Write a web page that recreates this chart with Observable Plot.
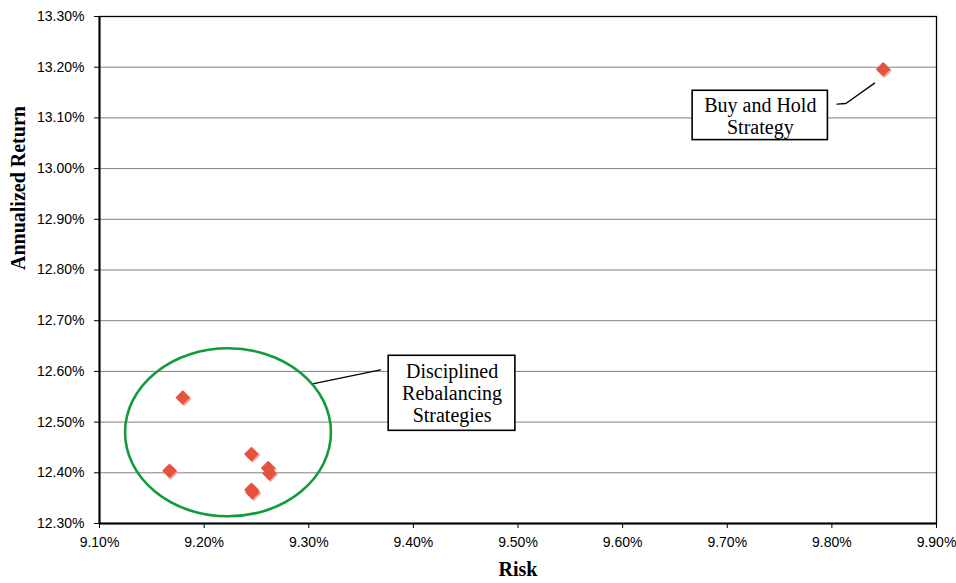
<!DOCTYPE html>
<html>
<head>
<meta charset="utf-8">
<script src="https://cdn.jsdelivr.net/npm/d3@7"></script>
<script src="https://cdn.jsdelivr.net/npm/@observablehq/plot@0.6"></script>
<style>
  html, body { margin: 0; padding: 0; background: #fff; }
  #chart svg { display: block; }
</style>
</head>
<body>
<div id="chart"></div>
<script>
// ---- data (percent) ----
const strategies = ["Buy and Hold", "Rebalancing A", "Rebalancing B", "Rebalancing C",
                    "Rebalancing D", "Rebalancing E", "Rebalancing F", "Rebalancing G"];
const risk = [9.849, 9.1796, 9.1669, 9.2452, 9.2612, 9.2624, 9.2452, 9.2462];
const annualizedReturn = [13.196, 12.5485, 12.4039, 12.4369, 12.4093, 12.399, 12.3665, 12.3615];

// ---- tick labels ----
const xTicks = [9.1, 9.2, 9.3, 9.4, 9.5, 9.6, 9.7, 9.8, 9.9];
const yTicks = [12.3, 12.4, 12.5, 12.6, 12.7, 12.8, 12.9, 13.0, 13.1, 13.2, 13.3];

// ---- annotations (data coordinates) ----
const noteText = ["Buy and Hold\nStrategy", "Disciplined\nRebalancing\nStrategies"];
const noteX = [9.7316, 9.4370];
const noteY = [13.1047, 12.5568];
const boxX1 = [9.6669, 9.3764];
const boxX2 = [9.7962, 9.4975];
const boxY1 = [13.0562, 12.4828];
const boxY2 = [13.1535, 12.6308];
const leaderX = [[9.8049, 9.8134, 9.8408], [9.3048, 9.3685]];
const leaderY = [[13.1272, 13.1284, 13.1686], [12.5761, 12.6032]];
const ellipseCenter = [9.2233, 12.4789];
const ellipseRadius = [0.0984, 0.1657];

// ---- build tables ----
const points = strategies.map((s, i) => ({strategy: s, risk: risk[i], ret: annualizedReturn[i]}));
const notes = noteText.map((t, i) => ({text: t, x: noteX[i], y: noteY[i], x1: boxX1[i], x2: boxX2[i], y1: boxY1[i], y2: boxY2[i]}));
const leaders = leaderX.flatMap((xs, k) => xs.map((x, j) => ({k, x, y: leaderY[k][j]})));

const pct = d => d.toFixed(2) + "%";

function ellipseMark(index, scales) {
  const {x, y} = scales;
  const cx = x(ellipseCenter[0]), cy = y(ellipseCenter[1]);
  const rx = Math.abs(x(ellipseCenter[0] + ellipseRadius[0]) - cx);
  const ry = Math.abs(cy - y(ellipseCenter[1] + ellipseRadius[1]));
  const el = document.createElementNS("http://www.w3.org/2000/svg", "ellipse");
  el.setAttribute("cx", cx); el.setAttribute("cy", cy);
  el.setAttribute("rx", rx); el.setAttribute("ry", ry);
  el.setAttribute("fill", "none");
  el.setAttribute("stroke", "#139a3c");
  el.setAttribute("stroke-width", 2.6);
  return el;
}

const chart = Plot.plot({
  width: 956,
  height: 583,
  marginLeft: 99,
  marginRight: 20,
  marginTop: 16,
  marginBottom: 60,
  style: {fontFamily: "'Liberation Sans', Arial, sans-serif", fontSize: "14px", color: "#000", background: "#fff"},
  x: {domain: [9.1, 9.9], ticks: xTicks, tickFormat: pct, tickSize: 5, tickPadding: 9, label: null},
  y: {domain: [12.3, 13.3], ticks: yTicks, tickFormat: pct, tickSize: 5, tickPadding: 10, label: null},
  marks: [
    Plot.ruleY(yTicks, {stroke: "#808080", strokeWidth: 1}),
    Plot.frame({stroke: "#000", strokeWidth: 1.3}),
    Plot.ruleY([yTicks[0]], {stroke: "#000", strokeWidth: 2}),
    Plot.ruleX([xTicks[0]], {stroke: "#000", strokeWidth: 2}),
    ellipseMark,
    Plot.line(leaders, {x: "x", y: "y", z: "k", stroke: "#000", strokeWidth: 1.3}),
    Plot.rect(notes, {x1: "x1", x2: "x2", y1: "y1", y2: "y2", fill: "#fff", stroke: "#000", strokeWidth: 1.6}),
    Plot.text(notes, {x: "x", y: "y", text: "text", fontFamily: "'Liberation Serif', 'Times New Roman', serif", fontSize: 20, lineHeight: 1.1, fill: "#000"}),
    Plot.dot(points, {x: "risk", y: "ret", symbol: "diamond2", r: 6.8, fill: "#f4a596", dx: 1.2, dy: 1.2}),
    Plot.dot(points, {x: "risk", y: "ret", symbol: "diamond2", r: 6.6, fill: "#e6533d"}),
    Plot.text(["Risk"], {frameAnchor: "bottom", lineAnchor: "bottom", dy: 52, fontFamily: "'Liberation Serif', 'Times New Roman', serif", fontSize: 20, fontWeight: "bold", fill: "#000"}),
    Plot.text(["Annualized Return"], {frameAnchor: "left", lineAnchor: "bottom", rotate: -90, dx: -75, fontFamily: "'Liberation Serif', 'Times New Roman', serif", fontSize: 20, fontWeight: "bold", fill: "#000"})
  ]
});
document.getElementById("chart").appendChild(chart);
</script>
</body>
</html>
